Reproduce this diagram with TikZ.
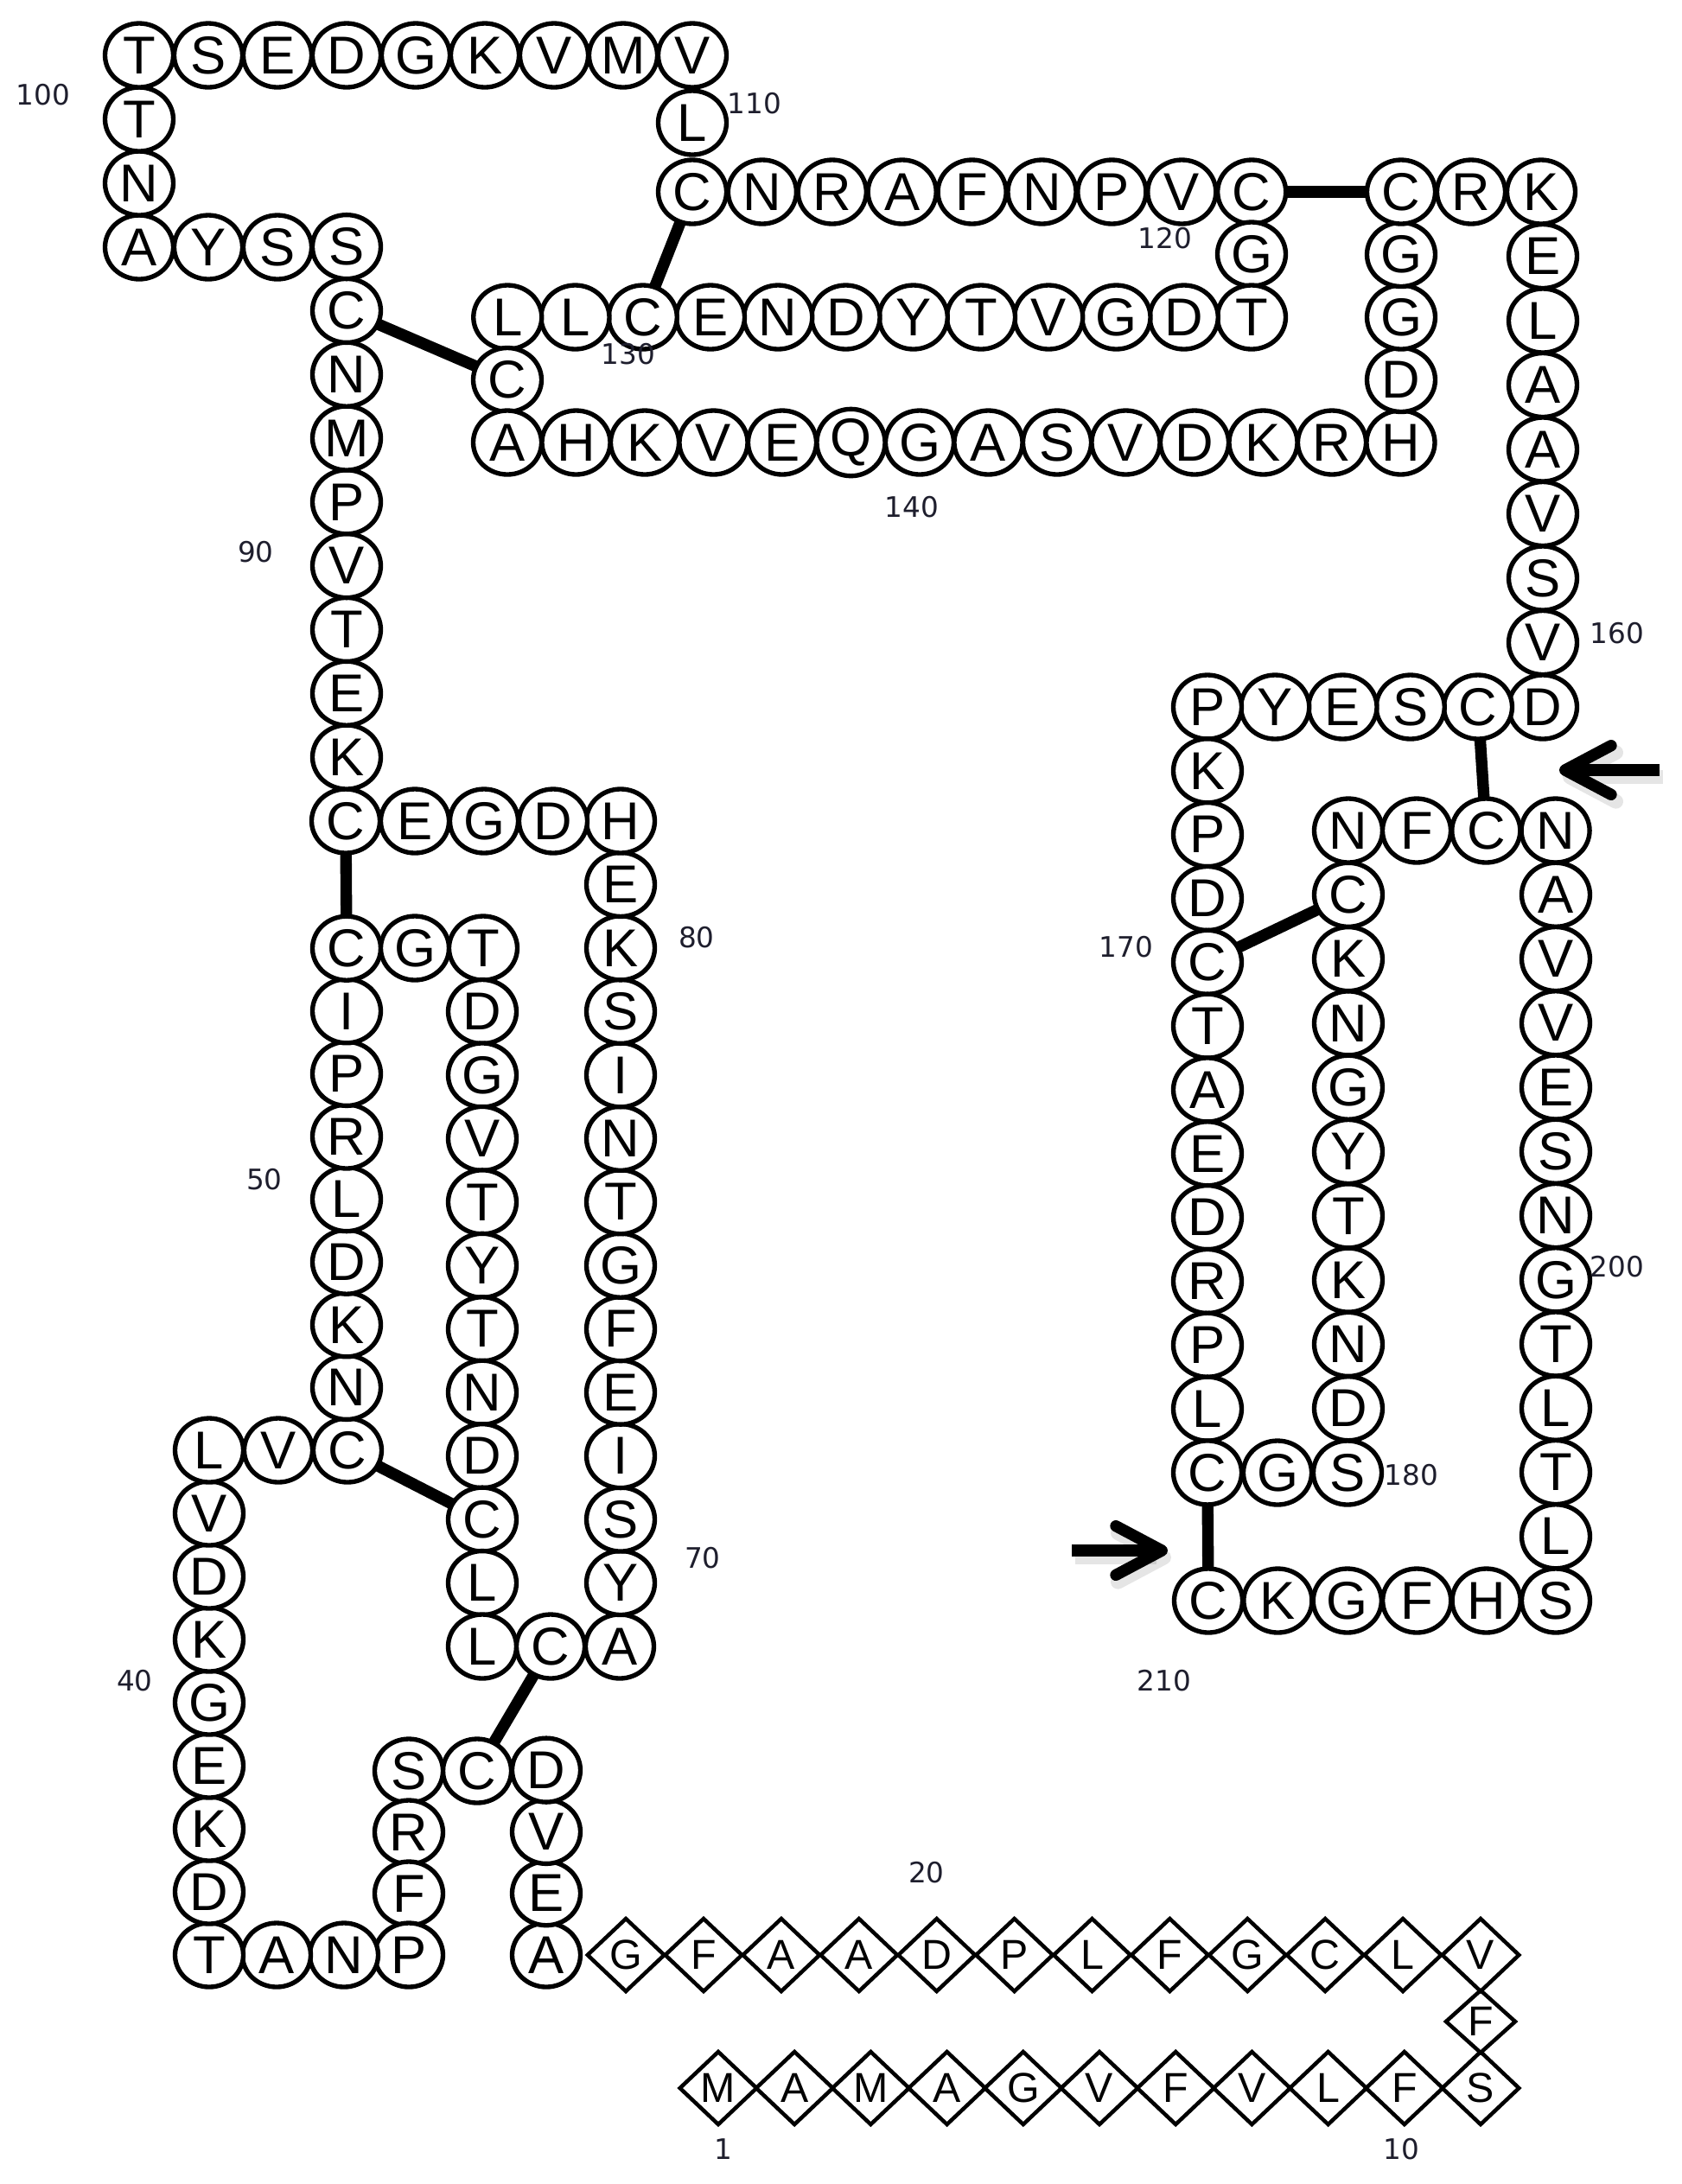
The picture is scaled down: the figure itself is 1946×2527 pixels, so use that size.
\documentclass[tikz,border=0pt]{standalone}
\usepackage{fontspec}
\setmainfont{Liberation Sans}
\newfontfamily\labfont{DejaVu Sans}
\usetikzlibrary{shapes.geometric,arrows.meta}
\definecolor{labcol}{RGB}{30,30,45}
\tikzset{
  res/.style={ellipse, draw, line width=1.6pt, fill=white, minimum width=23.7pt, minimum height=22.2pt, inner sep=0pt, outer sep=0pt, font=\fontsize{18.5pt}{18.5pt}\selectfont},
  dia/.style={diamond, aspect=1, draw, line width=1.35pt, fill=white, minimum width=26.6pt, minimum height=25.2pt, inner sep=0pt, outer sep=0pt, font=\fontsize{14.5pt}{14.5pt}\selectfont},
  diasmall/.style={dia, minimum width=24pt, minimum height=21.6pt},
  bond/.style={line width=4pt},
  pointer/.style={line width=4pt, -{Straight Barb[length=16pt,width=17pt,round]}},
  pshadow/.style={line width=5pt, draw=black, opacity=0.1, -{Straight Barb[length=16pt,width=17pt,round]}},
  lab/.style={font=\labfont\fontsize{9.8pt}{10pt}\selectfont, text=labcol, inner sep=0pt},
}
\newcommand{\reschain}[7][res]{%
  \foreach \rl [count=\ci from 0] in {#7} {%
    \pgfmathtruncatemacro{\rn}{#2+\ci}%
    \node[#1] (r\rn) at ({#3+\ci*(#5)},{#4+\ci*(#6)}) {\rl};
  }%
}
\begin{document}
\begin{tikzpicture}[x=0.3pt,y=-0.3pt]
\fill[white] (0,0) rectangle (1946,2527);
\useasboundingbox (0,0) rectangle (1946,2527);
% signal peptide (diamonds)
\reschain[dia]{1}{831}{2416}{88.2}{0}{M,A,M,A,G,V,F,V,L,F,S}
\node[diasmall] (r12) at (1713,2339) {F};
\reschain[dia]{13}{1713}{2262}{-89.9}{0}{V,L,C,G,F,L,P,D,A,A,F,G}
% mature chain
\reschain{25}{632}{2262}{0}{-71.3}{A,E,V,D}
\reschain{29}{552}{2049}{-79}{0}{C,S}
\reschain{31}{473}{2120}{0}{71}{R,F,P}
\reschain{34}{398}{2262}{-78}{0}{N,A,T}
\reschain{37}{242}{2189}{0}{-73}{D,K,E,G,K,D,V,L}
\reschain{45}{322}{1678}{80}{0}{V,C}
\reschain{47}{401}{1605.4}{0}{-72.6}{N,K,D,L,R,P,I,C}
\reschain{55}{480}{1097}{79}{0}{G,T}
\reschain{57}{558}{1170.5}{0}{73.45}{D,G,V,T,Y,T,N,D,C,L,L}
\reschain{68}{637}{1905}{80}{0}{C,A}
\reschain{70}{718}{1831.5}{0}{-73.46}{Y,S,I,E,F,G,T,N,I,S,K,E,H}
\reschain{83}{640}{950}{-80}{0}{D,G,E,C}
\reschain{87}{401}{876}{0}{-73.8}{K,E,T,V,P,M,N,C,S}
\reschain{96}{321}{286}{-80}{0}{S,Y,A}
\reschain{99}{161}{212}{0}{-74}{N,T,T}
\reschain{102}{241}{64}{80}{0}{S,E,D,G,K,V,M,V}
\node[res] (r110) at (801,142) {L};
\reschain{111}{801}{222}{80.9}{0}{C,N,R,A,F,N,P,V,C}
\reschain{120}{1448}{294}{0}{73}{G,T}
\reschain{122}{1369.75}{367}{-78.25}{0}{D,G,V,T,Y,D,N,E,C,L,L}
\reschain{133}{587}{439.5}{0}{72.5}{C,A}
\reschain{135}{666.5}{512}{79.5}{0}{H,K,V,E,Q,G,A,S,V,D,K,R,H}
\reschain{148}{1621}{439.5}{0}{-72.5}{D,G,G,C}
\reschain{152}{1702}{222}{81}{0}{R,K}
\reschain{154}{1785}{296.5}{0}{74.5}{E,L,A,A,V,S,V,D}
\reschain{162}{1710}{818}{-78.25}{0}{C,S,E,Y,P}
\reschain{167}{1397}{891.8}{0}{73.83}{K,P,D,C,T,A,E,D,R,P,L,C}
\reschain{179}{1478}{1704}{81}{0}{G,S}
\reschain{181}{1560}{1629.7}{0}{-74.3}{D,N,K,T,Y,G,N,K,C,N}
\reschain{191}{1639}{961}{80.3}{0}{F,C,N}
\reschain{194}{1800}{1035.25}{0}{74.25}{A,V,V,E,S,N,G,T,L,T,L,S}
\reschain{206}{1719.6}{1852}{-80.4}{0}{H,F,G,K,C}
% disulfide bonds
\draw[bond] (r119) -- (r151);
\draw[bond] (r111) -- (r130);
\draw[bond] (r94) -- (r133);
\draw[bond] (r86) -- (r54);
\draw[bond] (r46) -- (r65);
\draw[bond] (r68) -- (r29);
\draw[bond] (r162) -- (r192);
\draw[bond] (r170) -- (r189);
\draw[bond] (r178) -- (r210);
% arrows (with soft shadow)
\coordinate (a1t) at (1920,891);
\coordinate (a1h) at (1804,891);
\coordinate (a1ts) at (1924,899);
\coordinate (a1hs) at (1808,899);
\draw[pshadow] (a1ts) -- (a1hs);
\draw[pointer] (a1t) -- (a1h);
\coordinate (a2t) at (1240,1794);
\coordinate (a2h) at (1351,1794);
\coordinate (a2ts) at (1244,1802);
\coordinate (a2hs) at (1355,1802);
\draw[pshadow] (a2ts) -- (a2hs);
\draw[pointer] (a2t) -- (a2h);
% numbering
\node[lab] (l1) at (837,2487) {1};
\node[lab] (l10) at (1621,2487) {10};
\node[lab] (l20) at (1072,2167) {20};
\node[lab] (l40) at (156,1945) {40};
\node[lab] (l50) at (306,1365) {50};
\node[lab] (l70) at (813,1803) {70};
\node[lab] (l80) at (806,1085) {80};
\node[lab] (l90) at (296,639) {90};
\node[lab] (l100) at (50,110) {100};
\node[lab] (l110) at (873,120) {110};
\node[lab] (l120) at (1348,276) {120};
\node[lab] (l130) at (727,410) {130};
\node[lab] (l140) at (1055,587) {140};
\node[lab] (l160) at (1871,733) {160};
\node[lab] (l170) at (1303,1096) {170};
\node[lab] (l180) at (1633,1707) {180};
\node[lab] (l200) at (1871,1466) {200};
\node[lab] (l210) at (1347,1945) {210};
\end{tikzpicture}
\end{document}
